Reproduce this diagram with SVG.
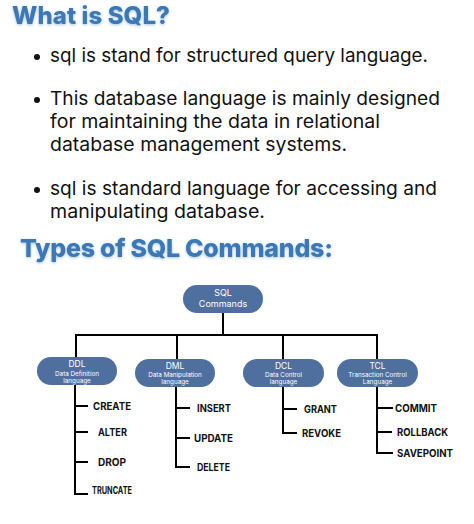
<svg xmlns="http://www.w3.org/2000/svg" width="474" height="524" viewBox="0 0 474 524">
<defs>
<filter id="glow" x="-10%" y="-30%" width="120%" height="160%">
<feDropShadow dx="0" dy="1" stdDeviation="1.5" flood-color="#3b78b5" flood-opacity="0.45"/>
</filter>
</defs>
<style>
.title{font-family:Inter,"Open Sans",sans-serif;font-weight:800;fill:#3b78b5}
.body{font-family:Inter,"Open Sans",sans-serif;font-size:18.5px;fill:#111}
.node rect{fill:#4f6f9f}
.nt{font-family:Inter,"Open Sans",sans-serif;fill:#fff;text-anchor:middle}
.nh{font-size:8.5px}
.ns{font-size:6.3px}
.lbl{font-family:Inter,"Open Sans",sans-serif;font-weight:700;font-size:10.5px;fill:#111}
.conn path{fill:none;stroke:#000;stroke-width:2}
</style>
<rect width="474" height="524" fill="#fff"/>
<text class="title" x="12" y="24" font-size="24" textLength="158" filter="url(#glow)">What is SQL?</text>
<g id="bullets">
<circle cx="37" cy="57" r="3" fill="#111"/>
<text class="body" x="50" y="62" textLength="378" lengthAdjust="spacingAndGlyphs">sql is stand for structured query language.</text>
<circle cx="37" cy="100" r="3" fill="#111"/>
<text class="body" x="50" y="105" textLength="390" lengthAdjust="spacingAndGlyphs">This database language is mainly designed</text>
<text class="body" x="50" y="128" textLength="330" lengthAdjust="spacingAndGlyphs">for maintaining the data in relational</text>
<text class="body" x="50" y="151" textLength="297" lengthAdjust="spacingAndGlyphs">database management systems.</text>
<circle cx="37" cy="190" r="3" fill="#111"/>
<text class="body" x="50" y="195" textLength="387" lengthAdjust="spacingAndGlyphs">sql is standard language for accessing and</text>
<text class="body" x="50" y="218" textLength="215" lengthAdjust="spacingAndGlyphs">manipulating database.</text>
</g>
<text class="title" x="20" y="257" font-size="25" textLength="313" filter="url(#glow)">Types of SQL Commands:</text>
<g class="conn" id="connectors">
<path d="M223 313V335M76 335H377M76 334V357M177 334V359M283 334V359M377 334V359"/>
<path d="M75 385V494H88M75 406H88M75 432H88M75 462H88"/>
<path d="M176 387V467H190M176 408H190M176 438H190"/>
<path d="M283 387V433H297M283 409H297"/>
<path d="M377 387V453H393M377 408H393M377 432H392"/>
</g>
<g class="node" id="sql">
<rect x="183" y="285" width="80" height="28" rx="14"/>
<text class="nt" x="223" y="296" font-size="9">SQL</text>
<text class="nt" x="223" y="307" font-size="9">Commands</text>
</g>
<g class="node" id="ddl">
<rect x="37" y="357" width="80" height="28" rx="14"/>
<text class="nt nh" x="77" y="367">DDL</text>
<text class="nt ns" x="77" y="375.5">Data Definition</text>
<text class="nt ns" x="77" y="382.5">language</text>
</g>
<g class="node" id="dml">
<rect x="135" y="359" width="80" height="28" rx="14"/>
<text class="nt nh" x="175" y="369">DML</text>
<text class="nt ns" x="175" y="377">Data Manipulation</text>
<text class="nt ns" x="175" y="384">language</text>
</g>
<g class="node" id="dcl">
<rect x="243" y="359" width="81" height="28" rx="14"/>
<text class="nt nh" x="283.5" y="369">DCL</text>
<text class="nt ns" x="283.5" y="377">Data Control</text>
<text class="nt ns" x="283.5" y="384">language</text>
</g>
<g class="node" id="tcl">
<rect x="337" y="359" width="81" height="28" rx="14"/>
<text class="nt nh" x="377.5" y="369">TCL</text>
<text class="nt ns" x="377.5" y="377">Transaction Control</text>
<text class="nt ns" x="377.5" y="384">Language</text>
</g>
<g id="ddl-items">
<text class="lbl" x="93" y="410" textLength="38" lengthAdjust="spacingAndGlyphs">CREATE</text>
<text class="lbl" x="98" y="436" textLength="29" lengthAdjust="spacingAndGlyphs">ALTER</text>
<text class="lbl" x="98" y="466" textLength="28" lengthAdjust="spacingAndGlyphs">DROP</text>
<text class="lbl" x="92" y="494" font-size="7" textLength="40" lengthAdjust="spacingAndGlyphs">TRUNCATE</text>
</g>
<g id="dml-items">
<text class="lbl" x="197" y="412" textLength="34" lengthAdjust="spacingAndGlyphs">INSERT</text>
<text class="lbl" x="194" y="442" textLength="39" lengthAdjust="spacingAndGlyphs">UPDATE</text>
<text class="lbl" x="197" y="471" textLength="33" lengthAdjust="spacingAndGlyphs">DELETE</text>
</g>
<g id="dcl-items">
<text class="lbl" x="304" y="413" textLength="33" lengthAdjust="spacingAndGlyphs">GRANT</text>
<text class="lbl" x="302" y="437" textLength="39" lengthAdjust="spacingAndGlyphs">REVOKE</text>
</g>
<g id="tcl-items">
<text class="lbl" x="395" y="412" textLength="42" lengthAdjust="spacingAndGlyphs">COMMIT</text>
<text class="lbl" x="397" y="436" textLength="51" lengthAdjust="spacingAndGlyphs">ROLLBACK</text>
<text class="lbl" x="397" y="457" textLength="56" lengthAdjust="spacingAndGlyphs">SAVEPOINT</text>
</g>
</svg>
